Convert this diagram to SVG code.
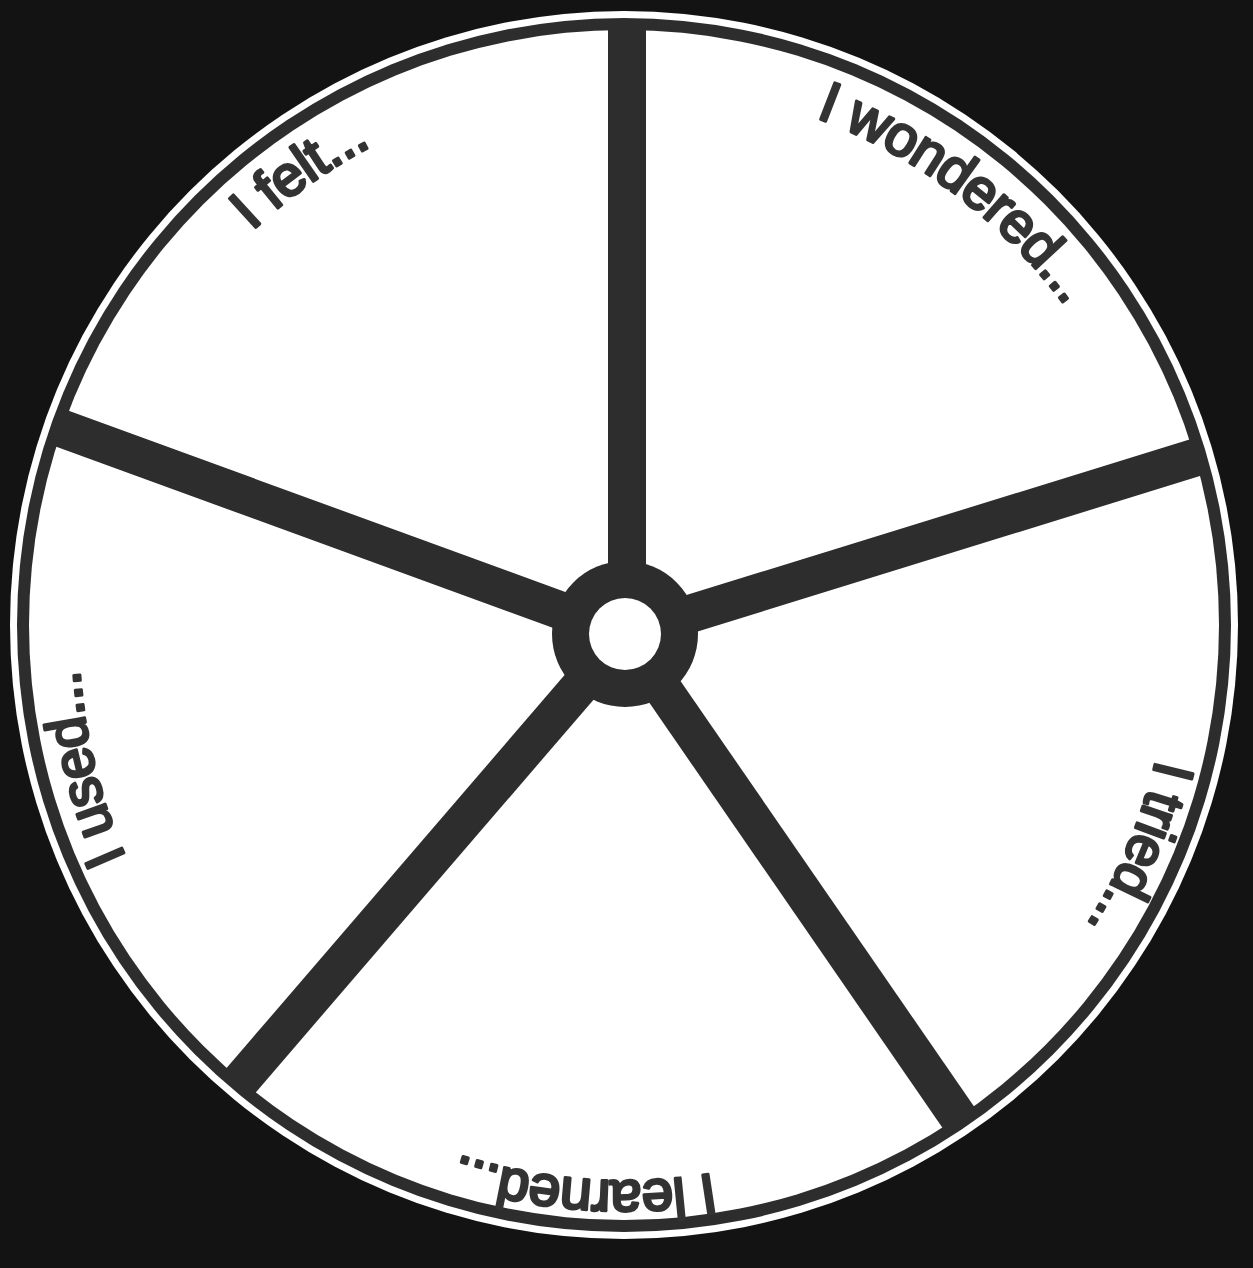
<svg xmlns="http://www.w3.org/2000/svg" xmlns:xlink="http://www.w3.org/1999/xlink" width="1253" height="1268" viewBox="0 0 1253 1268">
  <style>
    .dark { fill: #2d2d2d; }
    .spoke { stroke: #2d2d2d; stroke-width: 38; stroke-linecap: butt; fill: none; }
    .lbl { font-family: "Liberation Sans", Arial, sans-serif; font-size: 57px; letter-spacing: -1px; fill: #333333; stroke: #333333; stroke-width: 3; stroke-linejoin: round; }
  </style>
  <defs>
    <path id="textCircle" d="M 87.3,537.2 A 546 546 0 1 1 1162.7,726.8 A 546 546 0 1 1 87.3,537.2"/>
  </defs>
  <rect x="0" y="0" width="1253" height="1268" fill="#131313"/>
  <g id="wheel-rim">
    <circle cx="624" cy="625" r="614" fill="#ffffff"/>
    <circle cx="624" cy="625" r="607" class="dark"/>
    <circle cx="624" cy="625" r="595" fill="#ffffff"/>
  </g>
  <g id="connectors">
    <line class="spoke" x1="627" y1="634" x2="627" y2="24"/>
    <line class="spoke" x1="625" y1="634" x2="1200.7" y2="455.9"/>
    <line class="spoke" x1="625" y1="634" x2="56.7" y2="426.6"/>
    <line class="spoke" x1="625" y1="634" x2="237.1" y2="1084.9"/>
    <line class="spoke" x1="625" y1="634" x2="961.7" y2="1122.1"/>
  </g>
  <g id="hub">
    <circle cx="625" cy="634" r="73" class="dark"/>
    <circle cx="625" cy="634" r="36" fill="#ffffff"/>
  </g>
  <g id="label-felt">
    <text class="lbl" text-anchor="middle"><textPath xlink:href="#textCircle" href="#textCircle" startOffset="426.9">I felt...</textPath></text>
  </g>
  <g id="label-wondered">
    <text class="lbl" text-anchor="middle"><textPath xlink:href="#textCircle" href="#textCircle" startOffset="1117.8">I wondered...</textPath></text>
  </g>
  <g id="label-tried">
    <text class="lbl" text-anchor="middle"><textPath xlink:href="#textCircle" href="#textCircle" startOffset="1844.0">I tried...</textPath></text>
  </g>
  <g id="label-learned">
    <text class="lbl" text-anchor="middle"><textPath xlink:href="#textCircle" href="#textCircle" startOffset="2525.3">I learned...</textPath></text>
  </g>
  <g id="label-used">
    <text class="lbl" text-anchor="middle"><textPath xlink:href="#textCircle" href="#textCircle" startOffset="3210.5">I used...</textPath></text>
  </g>
</svg>
